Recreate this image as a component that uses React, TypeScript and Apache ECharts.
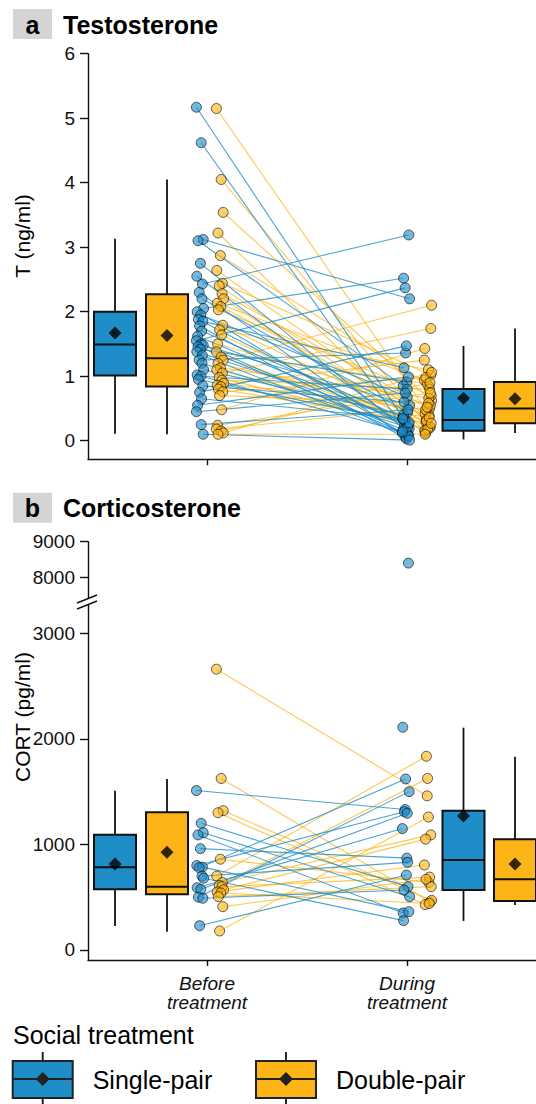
import React, { useEffect, useRef } from "react";
import * as echarts from "echarts";

// ---------- texts ----------
const X_LABELS = ["Before\ntreatment", "During\ntreatment"];
const GROUP_NAMES = ["Single-pair", "Double-pair"];
const LEGEND_TITLE = "Social treatment";
const PANEL_LETTERS = ["a", "b"];
const PANEL_TITLES = ["Testosterone", "Corticosterone"];
const Y_TITLES = ["T (ng/ml)", "CORT (pg/ml)"];

// ---------- ticks ----------
const T_TICKS = [0, 1, 2, 3, 4, 5, 6];
const CORT_TICKS_LOW = [0, 1000, 2000, 3000];
const CORT_TICKS_HIGH = [8000, 9000];
const X_TICKS = [1, 2];

// ---------- Testosterone (ng/ml), paired per bird ----------
const T_SINGLE_BEFORE = [5.17, 4.62, 3.12, 3.10, 2.75, 2.55, 2.43, 2.30, 2.20, 2.05, 2.00, 1.95, 1.88, 1.85, 1.78, 1.70, 1.62, 1.55, 1.50, 1.48, 1.46, 1.42, 1.38, 1.32, 1.25, 1.20, 1.10, 1.02, 1.00, 0.95, 0.85, 0.75, 0.65, 0.55, 0.45, 0.25, 0.10];
const T_SINGLE_DURING = [0.30, 0.10, 2.20, 0.85, 0.15, 0.23, 3.19, 0.05, 0.44, 2.52, 0.12, 0.68, 0.19, 1.13, 0.03, 0.36, 0.26, 2.37, 0.09, 0.55, 0.17, 0.91, 0.32, 0.07, 1.36, 0.21, 0.40, 0.14, 0.80, 0.28, 0.60, 1.47, 0.34, 0.99, 0.74, 0.48, 0.01];
const T_DOUBLE_BEFORE = [5.15, 4.05, 3.54, 3.22, 2.87, 2.64, 2.44, 2.40, 2.28, 2.20, 2.13, 2.08, 2.03, 1.79, 1.72, 1.64, 1.50, 1.38, 1.30, 1.25, 1.20, 1.13, 1.10, 1.05, 0.98, 0.94, 0.89, 0.86, 0.84, 0.80, 0.76, 0.70, 0.48, 0.24, 0.18, 0.15, 0.12, 0.10];
const T_DOUBLE_DURING = [0.45, 0.20, 0.62, 0.14, 0.85, 0.33, 1.02, 0.25, 0.50, 0.12, 0.94, 0.39, 0.70, 0.29, 1.10, 0.16, 0.55, 0.88, 0.22, 2.10, 0.42, 0.66, 0.31, 1.74, 0.18, 0.80, 0.48, 1.25, 0.36, 0.27, 0.98, 0.58, 1.43, 0.74, 0.52, 0.90, 1.06, 0.10];

// box stats [lower whisker, Q1, median, Q3, upper whisker] : before, during
const T_BOX_SINGLE = [[0.11, 1.01, 1.49, 2.0, 3.13], [0.02, 0.155, 0.32, 0.80, 1.47]];
const T_BOX_DOUBLE = [[0.10, 0.84, 1.28, 2.27, 4.05], [0.12, 0.27, 0.50, 0.91, 1.74]];
const T_MEAN_SINGLE = [1.67, 0.66];
const T_MEAN_DOUBLE = [1.63, 0.65];

// ---------- Corticosterone (pg/ml), paired per bird ----------
const C_SINGLE_BEFORE = [1510, 1200, 1110, 1090, 960, 800, 785, 780, 700, 680, 590, 575, 500, 490, 230, null, null];
const C_SINGLE_DURING = [1330, 600, 505, 350, 870, 1310, 363, 1620, 830, 278, 1150, 1295, 1500, 568, 710, 2110, 8400];
const C_DOUBLE_BEFORE = [2660, 1625, 1320, 1300, 860, 700, 640, 610, 600, 570, 550, 540, 505, 410, 180];
const C_DOUBLE_DURING = [1460, 455, 470, 430, 640, 1835, 1090, 1625, 690, 1050, 805, 440, 600, 670, 1260];

const C_BOX_SINGLE = [[227, 575, 783, 1092, 1509], [275, 568, 853, 1320, 2106]];
const C_BOX_DOUBLE = [[173, 527, 600, 1304, 1620], [426, 464, 670, 1049, 1831]];
const C_MEAN_SINGLE = [815, 1269];
const C_MEAN_DOUBLE = [925, 815];

// ---------- layout / style ----------
const BLUE = "#1E8DC8";
const ORANGE = "#FDB417";
const BLUE_PT = "rgba(30,141,200,0.62)";
const ORANGE_PT = "rgba(253,180,23,0.62)";
const BLUE_LN = "rgba(30,141,200,0.8)";
const ORANGE_LN = "rgba(253,180,23,0.75)";
const INK = "#111";
const FONT = "'Liberation Sans', Arial, Helvetica, sans-serif";
const X_MIN = 0.405;
const X_MAX = 2.645;
const BOX_W = 0.21;
// dodge offsets from each category (1 = before, 2 = during)
const BOX_OFF = [[-0.46, -0.2], [0.2825, 0.54]]; // [cat][group]
const PT_OFF = [[-0.035, 0.065], [-0.005, 0.105]];
const JITTER = [-0.018, 0.006, 0.016, -0.01, 0.002, -0.016, 0.012, -0.004, 0.01, 0.018, -0.014, 0.004, -0.008, 0.014, -0.002, 0.008, -0.012];
const jit = (i: number) => JITTER[i % JITTER.length];

const C_LOW_MAX = 3268;
const C_LOW_MIN = -95;
const C_HIGH_MIN = 7394;
const C_HIGH_MAX = 9000;

function boxSeries(xi: number, yi: number, stats: number[][], gi: number, color: string) {
  const data = stats.map((s, c) => [c + 1 + BOX_OFF[c][gi], ...s]);
  return {
    type: "custom",
    xAxisIndex: xi,
    yAxisIndex: yi,
    data,
    encode: { x: 0, y: [1, 2, 3, 4, 5] },
    z: 2,
    silent: true,
    renderItem: (_p: any, api: any) => {
      const xc = api.value(0);
      const pMin = api.coord([xc, api.value(1)]);
      const pQ1 = api.coord([xc, api.value(2)]);
      const pMed = api.coord([xc, api.value(3)]);
      const pQ3 = api.coord([xc, api.value(4)]);
      const pMax = api.coord([xc, api.value(5)]);
      const xl = api.coord([xc - BOX_W / 2, api.value(3)])[0];
      const xr = api.coord([xc + BOX_W / 2, api.value(3)])[0];
      const w = { stroke: INK, lineWidth: 1.8 };
      return {
        type: "group",
        children: [
          { type: "line", shape: { x1: pMax[0], y1: pMax[1], x2: pQ3[0], y2: pQ3[1] }, style: w },
          { type: "line", shape: { x1: pMin[0], y1: pMin[1], x2: pQ1[0], y2: pQ1[1] }, style: w },
          { type: "rect", shape: { x: xl, y: pQ3[1], width: xr - xl, height: pQ1[1] - pQ3[1] }, style: { fill: color, stroke: INK, lineWidth: 2 } },
          { type: "line", shape: { x1: xl, y1: pMed[1], x2: xr, y2: pMed[1] }, style: { stroke: INK, lineWidth: 2 } },
        ],
      };
    },
  };
}

function lineSeries(xi: number, yi: number, before: (number | null)[], during: (number | null)[], gi: number, color: string, yMax: number) {
  const data: number[][] = [];
  before.forEach((b, i) => {
    const d = during[i];
    if (b == null || d == null || b > yMax || d > yMax) return;
    data.push([1 + PT_OFF[0][gi] + jit(i), b, 2 + PT_OFF[1][gi] + jit(i + 7), d]);
  });
  return {
    type: "custom",
    xAxisIndex: xi,
    yAxisIndex: yi,
    data,
    encode: { x: [0, 2], y: [1, 3] },
    z: 3,
    silent: true,
    renderItem: (_p: any, api: any) => {
      const a = api.coord([api.value(0), api.value(1)]);
      const b = api.coord([api.value(2), api.value(3)]);
      return { type: "line", shape: { x1: a[0], y1: a[1], x2: b[0], y2: b[1] }, style: { stroke: color, lineWidth: 1.1 } };
    },
  };
}

function pointSeries(xi: number, yi: number, values: (number | null)[], cat: number, gi: number, color: string, keep: (v: number) => boolean) {
  const data: number[][] = [];
  values.forEach((v, i) => {
    if (v == null || !keep(v)) return;
    data.push([cat + 1 + PT_OFF[cat][gi] + jit(i + (cat === 1 ? 7 : 0)), v]);
  });
  return {
    type: "scatter",
    xAxisIndex: xi,
    yAxisIndex: yi,
    data,
    symbolSize: 10,
    itemStyle: { color, borderColor: "rgba(0,0,0,0.6)", borderWidth: 1, opacity: 1 },
    z: 4,
    silent: true,
  };
}

function meanSeries(xi: number, yi: number, meansS: number[], meansD: number[]) {
  const data: number[][] = [];
  meansS.forEach((m, c) => data.push([c + 1 + BOX_OFF[c][0], m]));
  meansD.forEach((m, c) => data.push([c + 1 + BOX_OFF[c][1], m]));
  return {
    type: "scatter",
    xAxisIndex: xi,
    yAxisIndex: yi,
    data,
    symbol: "diamond",
    symbolSize: 13,
    itemStyle: { color: "#000" },
    z: 5,
    silent: true,
  };
}

function xAxis(g: number) {
  return {
    type: "value",
    gridIndex: g,
    min: X_MIN,
    max: X_MAX,
    show: g !== 1,
    axisLine: { show: true, onZero: false, lineStyle: { color: INK, width: 1.4 } },
    axisTick: { show: true, length: 6, customValues: X_TICKS, lineStyle: { color: INK, width: 1.4 } },
    axisLabel: {
      show: g === 2,
      customValues: X_TICKS,
      formatter: (v: number) => X_LABELS[Math.round(v) - 1],
      fontSize: 19,
      fontStyle: "italic",
      lineHeight: 19,
      color: INK,
      margin: 14,
      fontFamily: FONT,
    },
    splitLine: { show: false },
  };
}

function yAxis(g: number, min: number, max: number, ticks: number[]) {
  return {
    type: "value",
    gridIndex: g,
    min,
    max,
    axisLine: { show: true, onZero: false, lineStyle: { color: INK, width: 1.4 } },
    axisTick: { show: true, length: 8, customValues: ticks, lineStyle: { color: INK, width: 1.4 } },
    axisLabel: { customValues: ticks, formatter: (v: number) => String(v), fontSize: 19, color: INK, margin: 13, fontFamily: FONT },
    splitLine: { show: false },
  };
}

function legendKey(x: number, color: string, label: string) {
  const cx = x + 30;
  return [
    { type: "line", shape: { x1: cx, y1: 1052, x2: cx, y2: 1104 }, style: { stroke: INK, lineWidth: 1.8 } },
    { type: "rect", shape: { x, y: 1061, width: 60, height: 37 }, style: { fill: color, stroke: "#222", lineWidth: 2 } },
    { type: "line", shape: { x1: x, y1: 1079, x2: x + 60, y2: 1079 }, style: { stroke: "#222", lineWidth: 2 } },
    { type: "polygon", shape: { points: [[cx, 1072], [cx + 7, 1079], [cx, 1086], [cx - 7, 1079]] }, style: { fill: "#222" } },
    { type: "text", x: x + 80, y: 1080, style: { text: label, fontSize: 25, fontFamily: FONT, fill: "#000", align: "left", verticalAlign: "middle" } },
  ];
}

export default function App() {
  const ref = useRef<HTMLDivElement>(null);
  useEffect(() => {
    if (!ref.current) return;
    const chart = echarts.init(ref.current, null, { renderer: "svg" });
    const keepLow = (v: number) => v <= C_LOW_MAX;
    const keepHigh = (v: number) => v > C_LOW_MAX;
    const option: any = {
      animation: false,
      backgroundColor: "#fff",
      textStyle: { fontFamily: FONT },
      grid: [
        { left: 88, width: 448, top: 53.7, height: 405.6, outerBoundsMode: "none", containLabel: false },
        { left: 88, width: 448, top: 541.7, height: 57.3, outerBoundsMode: "none", containLabel: false },
        { left: 88, width: 448, top: 605, height: 355, outerBoundsMode: "none", containLabel: false },
      ],
      xAxis: [xAxis(0), xAxis(1), xAxis(2)],
      yAxis: [
        yAxis(0, -0.288, 6, T_TICKS),
        yAxis(1, C_HIGH_MIN, C_HIGH_MAX, CORT_TICKS_HIGH),
        yAxis(2, C_LOW_MIN, C_LOW_MAX, CORT_TICKS_LOW),
      ],
      series: [
        // panel a
        boxSeries(0, 0, T_BOX_SINGLE, 0, BLUE),
        boxSeries(0, 0, T_BOX_DOUBLE, 1, ORANGE),
        lineSeries(0, 0, T_DOUBLE_BEFORE, T_DOUBLE_DURING, 1, ORANGE_LN, 99),
        lineSeries(0, 0, T_SINGLE_BEFORE, T_SINGLE_DURING, 0, BLUE_LN, 99),
        pointSeries(0, 0, T_SINGLE_BEFORE, 0, 0, BLUE_PT, () => true),
        pointSeries(0, 0, T_DOUBLE_BEFORE, 0, 1, ORANGE_PT, () => true),
        pointSeries(0, 0, T_SINGLE_DURING, 1, 0, BLUE_PT, () => true),
        pointSeries(0, 0, T_DOUBLE_DURING, 1, 1, ORANGE_PT, () => true),
        meanSeries(0, 0, T_MEAN_SINGLE, T_MEAN_DOUBLE),
        // panel b (lower part)
        boxSeries(2, 2, C_BOX_SINGLE, 0, BLUE),
        boxSeries(2, 2, C_BOX_DOUBLE, 1, ORANGE),
        lineSeries(2, 2, C_DOUBLE_BEFORE, C_DOUBLE_DURING, 1, ORANGE_LN, C_LOW_MAX),
        lineSeries(2, 2, C_SINGLE_BEFORE, C_SINGLE_DURING, 0, BLUE_LN, C_LOW_MAX),
        pointSeries(2, 2, C_SINGLE_BEFORE, 0, 0, BLUE_PT, keepLow),
        pointSeries(2, 2, C_DOUBLE_BEFORE, 0, 1, ORANGE_PT, keepLow),
        pointSeries(2, 2, C_SINGLE_DURING, 1, 0, BLUE_PT, keepLow),
        pointSeries(2, 2, C_DOUBLE_DURING, 1, 1, ORANGE_PT, keepLow),
        meanSeries(2, 2, C_MEAN_SINGLE, C_MEAN_DOUBLE),
        // panel b (upper part, above the break)
        pointSeries(1, 1, C_SINGLE_DURING, 1, 0, BLUE_PT, keepHigh),
        pointSeries(1, 1, C_DOUBLE_DURING, 1, 1, ORANGE_PT, keepHigh),
      ],
      graphic: [
        // panel titles
        { type: "rect", shape: { x: 13, y: 9, width: 39, height: 30 }, style: { fill: "#d4d4d4" } },
        { type: "text", x: 32.5, y: 24.5, style: { text: PANEL_LETTERS[0], fontSize: 25, fontWeight: "bold", fontFamily: FONT, fill: "#000", align: "center", verticalAlign: "middle" } },
        { type: "text", x: 63, y: 24.5, style: { text: PANEL_TITLES[0], fontSize: 25, fontWeight: "bold", fontFamily: FONT, fill: "#000", align: "left", verticalAlign: "middle" } },
        { type: "rect", shape: { x: 13, y: 492.7, width: 39, height: 30 }, style: { fill: "#d4d4d4" } },
        { type: "text", x: 32.5, y: 508, style: { text: PANEL_LETTERS[1], fontSize: 25, fontWeight: "bold", fontFamily: FONT, fill: "#000", align: "center", verticalAlign: "middle" } },
        { type: "text", x: 63, y: 508, style: { text: PANEL_TITLES[1], fontSize: 25, fontWeight: "bold", fontFamily: FONT, fill: "#000", align: "left", verticalAlign: "middle" } },
        // y axis titles
        { type: "text", x: 22, y: 236, rotation: Math.PI / 2, style: { text: Y_TITLES[0], fontSize: 21, fontFamily: FONT, fill: "#000", align: "center", verticalAlign: "middle" } },
        { type: "text", x: 22, y: 717, rotation: Math.PI / 2, style: { text: Y_TITLES[1], fontSize: 21, fontFamily: FONT, fill: "#000", align: "center", verticalAlign: "middle" } },
        // axis break marks
        { type: "rect", shape: { x: 84, y: 599, width: 8, height: 6 }, style: { fill: "#fff" }, z: 10 },
        { type: "line", shape: { x1: 77, y1: 603, x2: 97, y2: 595 }, style: { stroke: INK, lineWidth: 1.4 }, z: 11 },
        { type: "line", shape: { x1: 77, y1: 609, x2: 97, y2: 601 }, style: { stroke: INK, lineWidth: 1.4 }, z: 11 },
        // legend
        { type: "text", x: 13, y: 1035, style: { text: LEGEND_TITLE, fontSize: 25, fontFamily: FONT, fill: "#000", align: "left", verticalAlign: "middle" } },
        ...legendKey(12.7, BLUE, GROUP_NAMES[0]),
        ...legendKey(256, ORANGE, GROUP_NAMES[1]),
      ],
    };
    chart.setOption(option);
    return () => chart.dispose();
  }, []);
  return <div ref={ref} style={{ position: "absolute", left: 0, top: 0, width: 536, height: 1104 }} />;
}
